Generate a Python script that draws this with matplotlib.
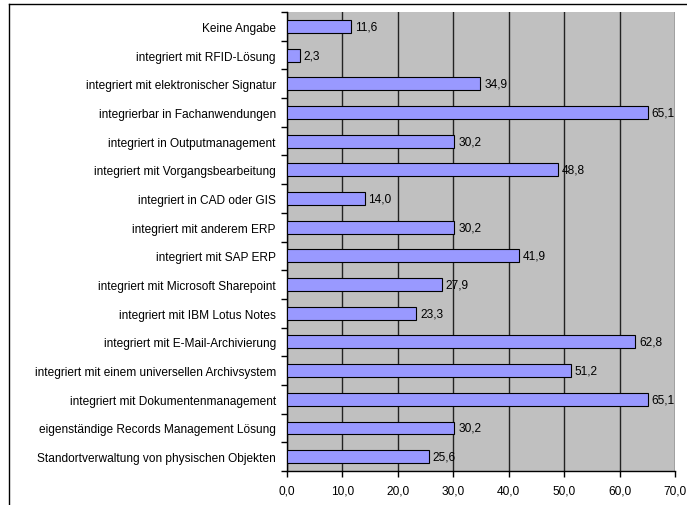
import matplotlib.pyplot as plt
from matplotlib.lines import Line2D
import numpy as np

plt.rcParams['font.family'] = ['Liberation Sans', 'DejaVu Sans']

categories = [
    "Keine Angabe",
    "integriert mit RFID-Lösung",
    "integriert mit elektronischer Signatur",
    "integrierbar in Fachanwendungen",
    "integriert in Outputmanagement",
    "integriert mit Vorgangsbearbeitung",
    "integriert in CAD oder GIS",
    "integriert mit anderem ERP",
    "integriert mit SAP ERP",
    "integriert mit Microsoft Sharepoint",
    "integriert mit IBM Lotus Notes",
    "integriert mit E-Mail-Archivierung",
    "integriert mit einem universellen Archivsystem",
    "integriert mit Dokumentenmanagement",
    "eigenständige Records Management Lösung",
    "Standortverwaltung von physischen Objekten",
]
values = [11.6, 2.3, 34.9, 65.1, 30.2, 48.8, 14.0, 30.2, 41.9, 27.9,
          23.3, 62.8, 51.2, 65.1, 30.2, 25.6]
xticks = [0, 10, 20, 30, 40, 50, 60, 70]

FS = 8.6


def fmt(v):
    return f"{v:.1f}".replace(".", ",")


def main():
    fig = plt.figure(figsize=(6.87, 5.06), dpi=100)
    ax = fig.add_axes([0.4178, 0.0672, 0.5648, 0.907])
    ax.set_facecolor('#C0C0C0')

    n = len(categories)
    y = np.arange(n)[::-1]
    ax.barh(y, values, height=0.45, color='#9999FF', edgecolor='black',
            linewidth=0.8, zorder=3)
    for yi, v in zip(y, values):
        ax.text(v + 0.7, yi, fmt(v), va='center', ha='left', fontsize=FS,
                zorder=4)

    ax.set_xlim(0, 70)
    ax.set_ylim(-0.5, n - 0.5)
    ax.set_xticks(xticks)
    ax.set_xticklabels([fmt(t) for t in xticks], fontsize=FS)
    ax.set_yticks(y)
    ax.set_yticklabels(categories, fontsize=FS)
    ax.set_yticks(np.arange(n + 1) - 0.5, minor=True)
    ax.tick_params(axis='y', which='major', length=0, pad=8)
    ax.tick_params(axis='y', which='minor', length=4, width=1, direction='out')
    ax.tick_params(axis='x', length=4, width=1, direction='out', pad=6)

    ax.xaxis.grid(True, color='#222222', linewidth=1, zorder=1)
    ax.set_axisbelow(True)
    for s in ['top', 'right']:
        ax.spines[s].set_visible(False)
    ax.spines['left'].set_linewidth(1)
    ax.spines['bottom'].set_linewidth(1)

    # outer frame (left and top edges)
    fig.add_artist(Line2D([9 / 687, 9 / 687], [0, 1 - 5 / 506],
                          transform=fig.transFigure, color='black', lw=1))
    fig.add_artist(Line2D([9 / 687, 1], [1 - 5 / 506, 1 - 5 / 506],
                          transform=fig.transFigure, color='black', lw=1))

    fig.savefig('out.png', dpi=100)


if __name__ == "__main__":
    main()
